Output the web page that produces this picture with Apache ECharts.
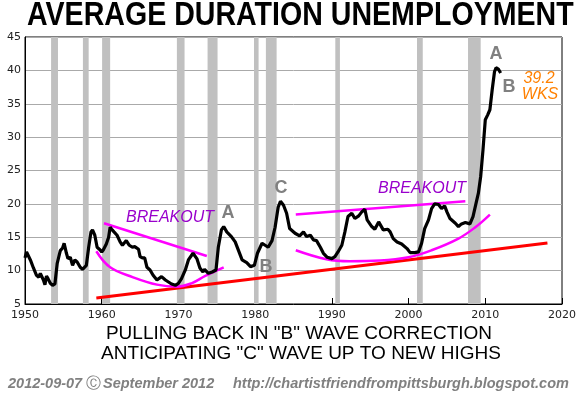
<!DOCTYPE html>
<html>
<head>
<meta charset="utf-8">
<script src="https://cdn.jsdelivr.net/npm/echarts@6/dist/echarts.min.js"></script>
<style>
  html, body { margin: 0; padding: 0; background: #fff; }
  #chart { width: 580px; height: 399px; }
</style>
</head>
<body>
<div id="chart"></div>
<script>
// average duration of unemployment, weeks
const duration = [
  [1950.0, 11.9], [1950.2, 12.8], [1950.4, 12.6], [1950.7, 11.6], [1951.1, 10.4], [1951.5, 9.3],
  [1951.8, 9.0], [1952.0, 9.6], [1952.4, 8.6], [1952.6, 7.9], [1952.8, 9.2], [1953.0, 8.8],
  [1953.3, 8.1], [1953.6, 7.8], [1953.9, 8.0], [1954.2, 11.1], [1954.6, 13.0], [1954.9, 13.4],
  [1955.1, 14.1], [1955.4, 12.6], [1955.6, 11.8], [1955.9, 12.0], [1956.2, 10.8], [1956.5, 11.6],
  [1956.8, 11.3], [1957.2, 10.5], [1957.5, 10.2], [1958.0, 10.8], [1958.3, 13.5], [1958.6, 15.8],
  [1958.8, 16.1], [1959.1, 15.3], [1959.4, 13.5], [1959.8, 13.1], [1960.0, 12.8], [1960.2, 13.1],
  [1960.6, 14.0], [1960.9, 15.0], [1961.1, 16.5], [1961.3, 16.2], [1961.6, 15.8], [1962.0, 15.3],
  [1962.4, 14.3], [1962.7, 13.8], [1963.2, 14.5], [1963.6, 13.8], [1964.0, 13.5], [1964.3, 13.6],
  [1964.8, 13.2], [1965.0, 12.1], [1965.3, 11.9], [1965.6, 11.9], [1965.9, 10.5], [1966.3, 10.1],
  [1966.7, 9.3], [1967.2, 8.6], [1967.4, 8.8], [1967.8, 9.1], [1968.3, 8.6], [1968.7, 8.3],
  [1969.1, 8.0], [1969.6, 7.8], [1970.0, 8.1], [1970.4, 8.8], [1970.9, 10.1], [1971.3, 11.6],
  [1971.9, 12.6], [1972.4, 11.8], [1972.8, 10.4], [1973.2, 9.8], [1973.4, 10.2], [1973.9, 9.6],
  [1974.4, 9.8], [1974.9, 10.1], [1975.2, 13.5], [1975.6, 16.1], [1975.9, 16.6], [1976.3, 15.8],
  [1976.9, 15.1], [1977.4, 14.3], [1977.8, 13.1], [1978.3, 11.6], [1978.9, 11.2], [1979.4, 10.6],
  [1979.9, 10.8], [1980.3, 12.6], [1980.9, 14.1], [1981.3, 13.8], [1981.7, 13.5], [1982.2, 14.5],
  [1982.6, 16.5], [1983.0, 19.5], [1983.3, 20.4], [1983.7, 19.8], [1984.1, 18.6], [1984.5, 16.3],
  [1985.2, 15.6], [1985.8, 15.2], [1986.3, 15.8], [1986.7, 15.1], [1987.2, 15.3], [1987.6, 14.6],
  [1988.0, 14.5], [1988.5, 13.5], [1988.9, 12.6], [1989.4, 12.0], [1990.0, 11.8], [1990.4, 12.1],
  [1990.8, 12.8], [1991.3, 13.8], [1991.7, 15.8], [1992.1, 18.1], [1992.6, 18.6], [1993.0, 17.8],
  [1993.5, 18.2], [1993.9, 18.8], [1994.3, 19.2], [1994.6, 17.6], [1995.2, 16.6], [1995.6, 16.2],
  [1996.1, 17.3], [1996.7, 16.1], [1997.3, 16.2], [1997.6, 15.8], [1998.0, 14.8], [1998.5, 14.3],
  [1999.1, 14.0], [1999.8, 13.3], [2000.2, 12.7], [2000.8, 12.7], [2001.3, 12.8], [2001.7, 14.1],
  [2002.1, 16.3], [2002.6, 17.6], [2003.0, 19.3], [2003.4, 20.0], [2003.9, 19.9], [2004.3, 19.3],
  [2004.7, 19.7], [2005.0, 18.8], [2005.4, 17.8], [2006.1, 17.1], [2006.5, 16.6], [2006.9, 17.0],
  [2007.4, 17.2], [2008.0, 17.0], [2008.4, 18.1], [2008.8, 20.1], [2009.1, 21.6], [2009.4, 24.1],
  [2009.7, 28.1], [2010.0, 32.6], [2010.3, 33.3], [2010.6, 34.1], [2010.9, 37.1], [2011.2, 39.8],
  [2011.4, 40.4], [2011.7, 40.2], [2012.0, 39.6]
]

// recessions (gray bars)
const recessionStart = [1953.4, 1957.55, 1960.05, 1969.8, 1973.8, 1979.85, 1981.4, 1990.45, 2001.1, 2007.75]
const recessionEnd   = [1954.3, 1958.3, 1961.1, 1970.8, 1975.1, 1980.45, 1982.8, 1991.05, 2001.85, 2009.4]

// hand drawn trend lines
const upperLeft  = [[1960.3, 17.1], [1973.7, 12.2]]
const bowlLeft   = [[1959.3, 12.9], [1961.1, 10.5], [1964.1, 9.0], [1967.2, 7.9], [1969.8, 7.6], [1971.7, 8.1], [1973.5, 9.2], [1975.9, 10.5]]
const upperRight = [[1985.3, 18.4], [2007.4, 20.4]]
const bowlRight  = [[1985.3, 13.05], [1989.3, 11.7], [1992.3, 11.4], [1996.3, 11.5], [2000.0, 12.0], [2003.0, 13.05], [2006.5, 14.8], [2008.7, 16.5], [2010.6, 18.4]]
const trendLine  = [[1959.3, 5.9], [2018.1, 14.15]]

const xTicks = [1950, 2020, 10]
const yTicks = [5, 45, 5]

const chart = echarts.init(document.getElementById('chart'))

const gtext = (text, x, y, opt) => ({
  type: 'text', x: x, y: y, z: 100,
  scaleX: opt.scaleX || 1,
  style: {
    text: text,
    fill: opt.color || '#000',
    fontSize: opt.size,
    fontFamily: opt.family || 'Liberation Sans',
    fontWeight: opt.weight || 'normal',
    fontStyle: opt.style || 'normal',
    align: opt.align || 'center', textAlign: opt.align || 'center',
    verticalAlign: 'middle', textVerticalAlign: 'middle'
  }
})

const pink = '#ff00ff'
const purple = '#9900cc'
const gray = '#808080'
const orange = '#ff8000'

const lineSeries = (data, color, width, smooth, z) => ({
  type: 'line', data: data, symbol: 'none', smooth: smooth, z: z,
  lineStyle: {color: color, width: width}, silent: true, animation: false
})

const option = {
  backgroundColor: '#fff',
  animation: false,
  grid: {left: 25, right: 18, top: 37, bottom: 95, show: true, borderColor: '#000', borderWidth: 1, backgroundColor: '#fff'},
  xAxis: {
    type: 'value', min: xTicks[0], max: xTicks[1], interval: xTicks[2],
    axisLine: {show: true, lineStyle: {color: '#000'}},
    axisTick: {show: true, inside: true, length: 6, lineStyle: {color: '#000'}},
    splitLine: {show: false},
    axisLabel: {color: '#222', fontSize: 11, fontFamily: 'DejaVu Sans', margin: 6, formatter: v => String(v)}
  },
  yAxis: {
    type: 'value', min: yTicks[0], max: yTicks[1], interval: yTicks[2],
    axisLine: {show: true, lineStyle: {color: '#000'}},
    axisTick: {show: false},
    splitLine: {show: true, lineStyle: {color: '#aaa', width: 1}},
    axisLabel: {color: '#222', fontSize: 11, fontFamily: 'DejaVu Sans', margin: 4}
  },
  series: [
    {
      type: 'line', data: [], z: 1, silent: true,
      markArea: {
        silent: true,
        itemStyle: {color: '#c0c0c0', opacity: 1},
        data: recessionStart.map((s, i) => [{xAxis: s}, {xAxis: recessionEnd[i]}])
      }
    },
    lineSeries(trendLine, '#ff0000', 3, false, 3),
    lineSeries(upperLeft, pink, 2.5, false, 4),
    lineSeries(bowlLeft, pink, 2.5, 0.4, 4),
    lineSeries(upperRight, pink, 2.5, false, 4),
    lineSeries(bowlRight, pink, 2.5, 0.4, 4),
    lineSeries(duration, '#000', 3.2, false, 5)
  ],
  graphic: [
    gtext('AVERAGE DURATION UNEMPLOYMENT', 27, 16, {size: 33.5, weight: 'bold', align: 'left', scaleX: 0.853}),
    gtext('BREAKOUT', 170, 218, {size: 16, style: 'italic', color: purple}),
    gtext('BREAKOUT', 422, 189, {size: 16, style: 'italic', color: purple}),
    gtext('A', 228, 213, {size: 18, weight: 'bold', color: gray}),
    gtext('B', 266, 267, {size: 18, weight: 'bold', color: gray}),
    gtext('C', 281, 188, {size: 18, weight: 'bold', color: gray}),
    gtext('A', 496, 54, {size: 18, weight: 'bold', color: gray}),
    gtext('B', 509, 87, {size: 18, weight: 'bold', color: gray}),
    gtext('39.2', 539, 79, {size: 16, style: 'italic', color: orange}),
    gtext('WKS', 540, 94.5, {size: 16, style: 'italic', color: orange}),
    gtext('PULLING BACK IN "B" WAVE CORRECTION', 299, 334, {size: 19}),
    gtext('ANTICIPATING "C" WAVE UP TO NEW HIGHS', 301, 354, {size: 19}),
    gtext('2012-09-07', 8, 384, {size: 14.5, weight: 'bold', style: 'italic', color: gray, align: 'left'}),
    gtext('\u24B8', 93, 384, {size: 15, color: gray}),
    gtext('September 2012', 103, 384, {size: 14.5, weight: 'bold', style: 'italic', color: gray, align: 'left'}),
    gtext('http://chartistfriendfrompittsburgh.blogspot.com', 233, 384, {size: 14.5, weight: 'bold', style: 'italic', color: gray, align: 'left'})
  ]
}

chart.setOption(option)
</script>
</body>
</html>
